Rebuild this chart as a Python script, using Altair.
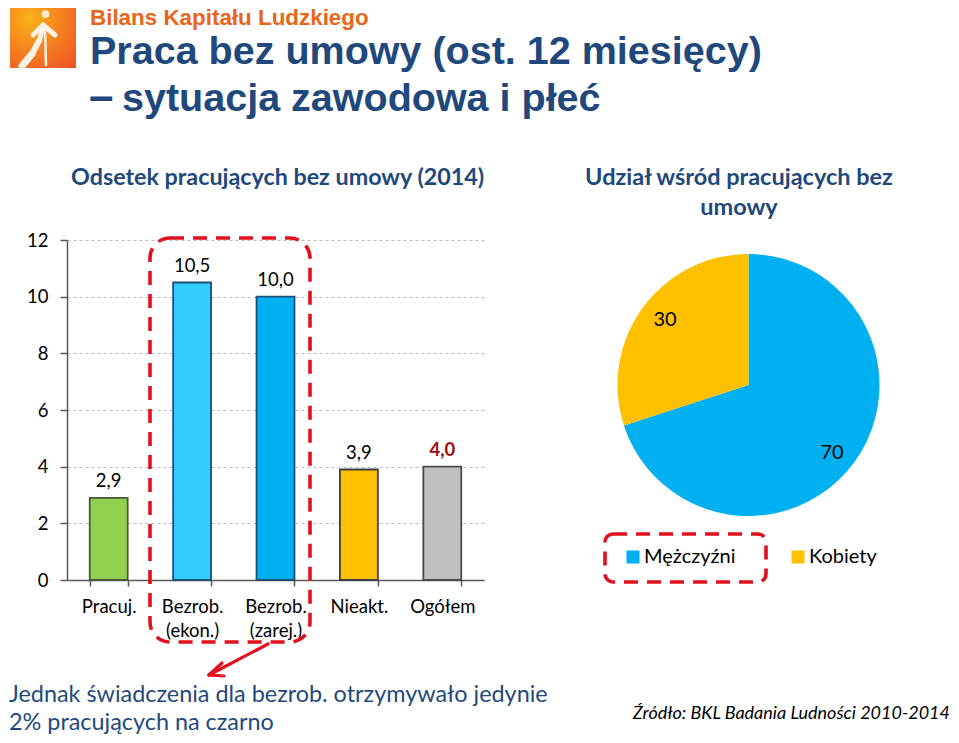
import altair as alt
import pandas as pd

# ---- data
categories = ["Pracuj.", "Bezrob.|(ekon.)", "Bezrob.|(zarej.)", "Nieakt.", "Ogółem"]
bar_values = [2.9, 10.5, 10.0, 3.9, 4.0]
bar_labels = ["2,9", "10,5", "10,0", "3,9", "4,0"]
bar_fills = ["#92D050", "#33CCFF", "#00B0F0", "#FFC000", "#BFBFBF"]
bar_strokes = ["#4A5A3A", "#1F4E79", "#1F4E79", "#3F3F3F", "#4A4A4A"]
pie_groups = ["Mężczyźni", "Kobiety"]
pie_values = [70, 30]
pie_colors = ["#00B0F0", "#FFC000"]

NAVY = "#1F497D"
RED = "#E2101E"
ARIAL = "Liberation Sans"
BODY = "Lato"

# plot area of the bar panel, in page pixels
PX0, PY0, PW, PH = 67, 240, 417, 340
def X(v): return v - PX0
def Y(v): return v - PY0

one = alt.Data(values=[{"k": 1}])

bars_df = pd.DataFrame({"cat": categories, "v": bar_values, "lab": bar_labels,
                        "f": bar_fills, "s": bar_strokes})
pie_df = pd.DataFrame({"g": pie_groups, "v": pie_values, "o": [0, 1]})

x_enc = alt.X("cat:N", sort=categories,
              scale=alt.Scale(paddingInner=0.545, paddingOuter=0.2725),
              axis=alt.Axis(title=None, labelAngle=0, tickBand="extent", tickSize=6,
                            labelExpr="split(datum.label,'|')", labelFont=BODY, labelFontSize=18.5,
                            labelColor="#000000", labelPadding=11, labelLineHeight=24,
                            labelOverlap=False, labelBound=False, labelFlush=False,
                            domainColor="#595959", tickColor="#595959", domainWidth=1.5,
                            tickWidth=1.5, grid=False))
y_enc = alt.Y("v:Q", scale=alt.Scale(domain=[0, 12], nice=False),
              axis=alt.Axis(title=None, values=[0, 2, 4, 6, 8, 10, 12], tickSize=7,
                            labelFont=BODY, labelFontSize=18.5, labelColor="#000000", labelPadding=12,
                            domainColor="#595959", tickColor="#595959", domainWidth=1.5,
                            tickWidth=1.5, grid=True, gridColor="#BDBDBD", gridDash=[3, 3],
                            gridWidth=1))

bars = alt.Chart(bars_df).mark_bar(strokeWidth=1.8).encode(
    x=x_enc, y=y_enc,
    fill=alt.Fill("f:N", scale=None),
    stroke=alt.Stroke("s:N", scale=None),
)

plain = alt.Chart(bars_df).transform_filter("datum.cat != 'Ogółem'").mark_text(
    font=BODY, fontSize=18.5, color="#000000", dy=-17, baseline="middle"
).encode(x=alt.X("cat:N", sort=categories), y=alt.Y("v:Q"), text="lab:N")
strong = alt.Chart(bars_df).transform_filter("datum.cat == 'Ogółem'").mark_text(
    font=BODY, fontSize=18.5, fontWeight="bold", color="#9C0C0C", dy=-17, baseline="middle"
).encode(x=alt.X("cat:N", sort=categories), y=alt.Y("v:Q"), text="lab:N")

pie = alt.Chart(pie_df).mark_arc(outerRadius=131).encode(
    theta=alt.Theta("v:Q", stack=True),
    order=alt.Order("o:Q"),
    x=alt.value(X(748.5)), y=alt.value(Y(385)),
    color=alt.Color("g:N", sort=pie_groups,
                    scale=alt.Scale(domain=pie_groups, range=pie_colors),
                    legend=alt.Legend(title=None, orient="none", direction="horizontal",
                                      legendX=X(623), legendY=Y(547), symbolType="square",
                                      symbolSize=170, symbolStrokeWidth=0, labelFont=BODY,
                                      labelFontSize=20, labelColor="#000000", labelOffset=1,
                                      columnPadding=52, padding=0)),
)


def T(text, x, y, size, color, font=BODY, weight="normal", style="normal", align="left"):
    return alt.Chart(one).mark_text(font=font, fontSize=size, color=color, fontWeight=weight,
                                    fontStyle=style, align=align, baseline="alphabetic").encode(
        x=alt.value(X(x)), y=alt.value(Y(y)), text=alt.value(text))


def L(x1, y1, x2, y2, color=RED, w=3.2):
    return alt.Chart(one).mark_rule(color=color, strokeWidth=w, strokeCap="round").encode(
        x=alt.value(X(x1)), x2=alt.value(X(x2)), y=alt.value(Y(y1)), y2=alt.value(Y(y2)))


def dashed(x1, y1, x2, y2, r):
    return alt.Chart(one).mark_rect(fill=None, filled=False, stroke=RED, strokeWidth=3.6,
                                    strokeDash=[14, 9], cornerRadius=r).encode(
        x=alt.value(X(x1)), x2=alt.value(X(x2)), y=alt.value(Y(y1)), y2=alt.value(Y(y2)))


logo_bg = alt.Chart(one).mark_rect(color=alt.RadialGradient(
    gradient="radial", x1=0.3, y1=0.25, x2=0.3, y2=0.25, r1=0, r2=0.95,
    stops=[alt.GradientStop(offset=0, color="#FBB11A"),
           alt.GradientStop(offset=1, color="#EE5524")])).encode(
    x=alt.value(X(10)), x2=alt.value(X(76)), y=alt.value(Y(3)), y2=alt.value(Y(68)))
logo_head = alt.Chart(one).mark_circle(color="#FDEBD0", opacity=1, size=60).encode(
    x=alt.value(X(45.5)), y=alt.value(Y(14)))
WHITE = "#FDF1E4"
logo = [logo_bg, logo_head,
        L(22, 66, 32, 54, WHITE, 7), L(32, 54, 39, 41, WHITE, 6), L(39, 41, 43, 28, WHITE, 5),
        L(45, 29, 46, 65, WHITE, 2.5), L(33, 35, 43, 25, WHITE, 5), L(43, 25, 55, 35, WHITE, 5)]

texts = [
    T("Bilans Kapitału Ludzkiego", 90, 25, 22.4, "#E8651A", ARIAL, "bold"),
    T("Praca bez umowy (ost. 12 miesięcy)", 90, 64, 39.5, NAVY, ARIAL, "bold"),
    T("–", 89, 111, 44, NAVY, ARIAL, "bold"),
    T("sytuacja zawodowa i płeć", 122, 111, 39.5, NAVY, ARIAL, "bold"),
    T("Odsetek pracujących bez umowy (2014)", 71, 185, 23.3, NAVY, BODY, "bold"),
    T("Udział wśród pracujących bez", 739, 185, 23.5, NAVY, BODY, "bold", align="center"),
    T("umowy", 739, 215, 23.5, NAVY, BODY, "bold", align="center"),
    T("30", 665, 326, 20, "#000000", align="center"),
    T("70", 832, 459, 20, "#000000", align="center"),
    T("Jednak świadczenia dla bezrob. otrzymywało jedynie", 9, 702, 23.4, NAVY),
    T("2% pracujących na czarno", 9, 730, 23.4, NAVY),
    T("Źródło: BKL Badania Ludności 2010-2014", 950, 719, 18, "#000000", style="italic", align="right"),
]

marks = [bars, plain, strong, pie] + logo + texts + [
    dashed(150, 238, 310, 642, 20),
    dashed(605, 534, 766, 582, 8),
    L(268, 644, 209, 675), L(209, 675, 222, 663), L(209, 675, 224, 676),
]

chart = alt.layer(*marks).resolve_scale(color="independent").properties(
    width=PW, height=PH,
    padding={"left": PX0 - 8, "top": PY0 - 8, "right": 951 - PX0 - PW, "bottom": 735 - PY0 - PH},
    autosize=alt.AutoSizeParams(type="none"),
    background="#FFFFFF",
).configure_view(stroke=None)

chart.save("out.html", embed_options={"renderer": "svg", "actions": False})
